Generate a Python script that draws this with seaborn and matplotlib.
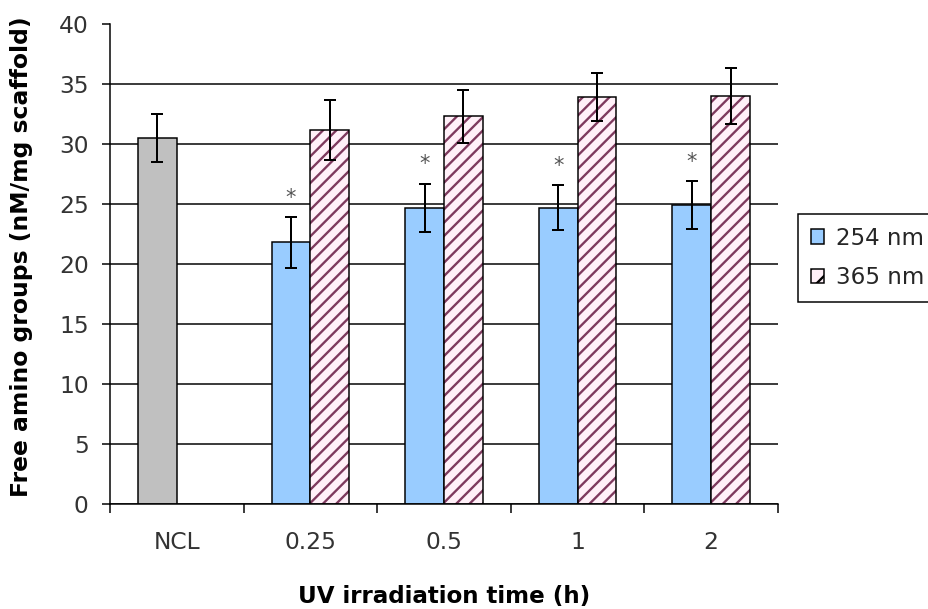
import numpy as np
import pandas as pd
import matplotlib
matplotlib.use("Agg")
import matplotlib.pyplot as plt
import matplotlib.patches as mpatches
import seaborn as sns

# ---------------- data ----------------
categories = ["NCL", "0.25", "0.5", "1", "2"]
series = ["254 nm", "365 nm"]

ncl_value = 30.5
ncl_err = 2.0

uv254_values = [21.8, 24.7, 24.7, 24.9]
uv254_err = [2.1, 2.0, 1.9, 2.0]
uv254_sig = [True, True, True, True]

uv365_values = [31.2, 32.3, 33.9, 34.0]
uv365_err = [2.5, 2.2, 2.0, 2.35]

x_label = "UV irradiation time (h)"
y_label = "Free amino groups (nM/mg scaffold)"
y_ticks = [0, 5, 10, 15, 20, 25, 30, 35, 40]

# ---------------- styles ----------------
c_ncl = "#C0C0C0"
c_254 = "#99CCFF"
c_365_bg = "#FFF0F8"
c_365_hatch = "#7E3A5E"
text_col = "#333333"

DPI = 120
sns.set_style("white")
plt.rcParams["font.family"] = ["DejaVu Sans"]
plt.rcParams["hatch.linewidth"] = 1.4

# build table (NCL control occupies the first slot of its group)
rows = [{"time": "NCL", "group": "254 nm", "value": ncl_value, "err": ncl_err, "sig": False}]
for t, v, e, s in zip(categories[1:], uv254_values, uv254_err, uv254_sig):
    rows.append({"time": t, "group": "254 nm", "value": v, "err": e, "sig": s})
for t, v, e in zip(categories[1:], uv365_values, uv365_err):
    rows.append({"time": t, "group": "365 nm", "value": v, "err": e, "sig": False})
df = pd.DataFrame(rows)

fig = plt.figure(figsize=(928 / DPI, 609 / DPI), dpi=DPI)
ax = fig.add_axes([110 / 928, 105 / 609, 668 / 928, 480 / 609])

sns.barplot(data=df, x="time", y="value", hue="group", order=categories,
            hue_order=series, palette={"254 nm": c_254, "365 nm": c_365_bg},
            width=0.58, saturation=1, errorbar=None, edgecolor="black",
            linewidth=0.9, legend=False, ax=ax, zorder=2)

# post-process bars: colors, hatch, error bars, stars
bar_patches = [p for p in ax.patches if isinstance(p, mpatches.Rectangle)]
for patch in bar_patches:
    h = patch.get_height()
    if not np.isfinite(h) or h <= 0:
        continue
    cx = patch.get_x() + patch.get_width() / 2
    idx = int(round(cx))
    cat = categories[idx]
    grp = series[0] if cx < idx else series[1]
    rec = df[(df["time"] == cat) & (df["group"] == grp)]
    if rec.empty:
        continue
    val = float(rec["value"].iloc[0])
    err = float(rec["err"].iloc[0])
    if cat == "NCL":
        patch.set_facecolor(c_ncl)
    if grp == "365 nm":
        patch.set_hatch("///")
        patch.set_edgecolor(c_365_hatch)
        patch.set_linewidth(0)
        outline = mpatches.Rectangle(patch.get_xy(), patch.get_width(), patch.get_height(),
                                     fill=False, edgecolor="black", linewidth=0.9, zorder=2.5)
        ax.add_patch(outline)
    ax.errorbar(cx, val, yerr=err, fmt="none", ecolor="black", elinewidth=1.2,
                capsize=3.6, capthick=1.2, zorder=3)
    if bool(rec["sig"].iloc[0]):
        ax.text(cx, val + err + 1.1, "*", ha="center", va="baseline",
                fontsize=12.5, color="#555555", zorder=4)

# axes formatting
ax.set_ylim(0, 40)
ax.set_yticks(y_ticks)
ax.set_xlim(-0.5, len(categories) - 0.5)
ax.yaxis.grid(True, color="black", linewidth=0.9)
ax.set_axisbelow(True)
ax.yaxis.get_gridlines()[-1].set_visible(False)

for s in ["top", "right"]:
    ax.spines[s].set_visible(False)
for s in ["left", "bottom"]:
    ax.spines[s].set_color("black")
    ax.spines[s].set_linewidth(0.9)

ax.set_xticks(range(len(categories)))
ax.set_xticklabels(categories)
ax.set_xticks(np.arange(-0.5, len(categories), 1.0), minor=True)
ax.tick_params(axis="x", which="major", length=0, pad=16, labelsize=14, labelcolor=text_col)
ax.tick_params(axis="x", which="minor", length=5.4, width=0.9, direction="out",
               color="black", bottom=True)
ax.tick_params(axis="y", which="major", length=4.8, width=0.9, direction="out",
               color="black", pad=8.0, labelsize=14, labelcolor=text_col, left=True)

ax.set_xlabel(x_label, fontsize=13.8, fontweight="bold", color="black")
ax.set_ylabel(y_label, fontsize=14.1, fontweight="bold", color="black")
ax.xaxis.set_label_coords(0.5, -0.168)
ax.yaxis.set_label_coords(-0.1153, 0.515)

# legend
handles = [
    mpatches.Patch(facecolor=c_254, edgecolor="black", linewidth=0.9, label=series[0]),
    mpatches.Patch(facecolor=c_365_bg, edgecolor="black", linewidth=0.9, hatch="//", label=series[1]),
]
leg = ax.legend(handles=handles, loc="upper left", bbox_to_anchor=(1.03, 0.604),
                borderaxespad=0, fontsize=13.8, frameon=True, fancybox=False,
                framealpha=1, edgecolor="black", handlelength=0.6, handleheight=0.6,
                handletextpad=0.5, labelspacing=0.72, borderpad=0.55)
leg.get_frame().set_linewidth(0.9)

fig.savefig("out.png", dpi=DPI)
